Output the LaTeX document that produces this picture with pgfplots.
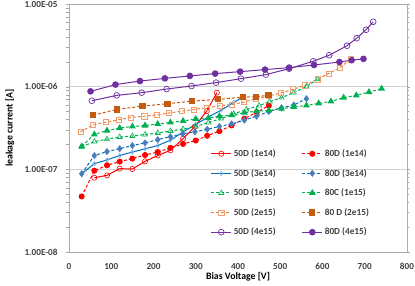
\documentclass[border=0pt]{standalone}
\usepackage{pgfplots}
\pgfplotsset{compat=1.18}
\usepackage{fontspec}
\setmainfont{Carlito}
\definecolor{cred}{HTML}{FF0000}
\definecolor{cblue}{HTML}{0070C0}
\definecolor{clblue}{HTML}{7FB2E5}
\definecolor{csteel}{HTML}{4A7EBB}
\definecolor{cgreen}{HTML}{00B050}
\definecolor{corange}{HTML}{ED7D31}
\definecolor{clorange}{HTML}{F0A070}
\definecolor{cdorange}{HTML}{C55A11}
\definecolor{cpurple}{HTML}{7030A0}
\definecolor{ctext}{HTML}{404040}
\definecolor{cgrid}{HTML}{D0D0D0}
\begin{document}
\begin{tikzpicture}
\useasboundingbox (-69pt,-33pt) rectangle (346pt,252pt);
\begin{axis}[
  at={(0,0)}, anchor=south west,
  width=338pt, height=248pt, scale only axis,
  xmin=0, xmax=800, ymode=log, ymin=1e-8, ymax=1e-5,
  xtick={0,100,200,300,400,500,600,700,800},
  xticklabels={0,100,200,300,400,500,600,700,800},
  ytick={1e-8,1e-7,1e-6,1e-5},
  yticklabels={1.00E-08,1.00E-07,1.00E-06,1.00E-05},
  /pgf/number format/assume math mode=true,
  ymajorgrids, major grid style={cgrid, line width=0.8pt},
  axis line style={gray!65, line width=0.8pt},
  xtick style={draw=none},
  ytick style={gray!70},
  tick align=outside, major tick length=3pt, minor tick length=2.5pt,
  ticklabel style={font=\fontsize{9.2}{10}\selectfont\bfseries, text=ctext},
  yticklabel style={xshift=-5pt},
  xticklabel style={yshift=-5pt},
  every axis y label/.style={at={(axis description cs:0,0.5)}, xshift=-59pt, rotate=90, anchor=center},
  every axis x label/.style={at={(axis description cs:0.5,0)}, yshift=-25pt, anchor=center},
  label style={font=\fontsize{9.8}{11}\selectfont\bfseries, text=black},
  xlabel={Bias Voltage [V]},
  ylabel={leakage current [A]},
  legend columns=2,
  legend cell align=left,
  legend style={at={(rel axis cs:0.41,0.43)}, anchor=north west, draw=none, fill=none,
    font=\fontsize{9.3}{10}\selectfont\bfseries, text=ctext, row sep=7.2pt,
    /tikz/every even column/.append style={column sep=24pt}},
  legend image code/.code={\draw[mark repeat=2,mark phase=2] plot coordinates {(0pt,0pt) (10pt,0pt) (20pt,0pt)};},
  every axis plot/.append style={line width=1pt},
]
% 50D (1e14)
\addplot[cred, solid, mark=o, mark size=2.6pt, mark options={solid, fill=white, line width=0.6pt}] coordinates {
(60,7.92e-8) (90,8.45e-8) (120,1.02e-7) (150,1.01e-7) (180,1.25e-7) (210,1.47e-7) (240,1.70e-7) (270,2.35e-7) (298,3.3e-7) (326,5.06e-7) (350,8.46e-7)};
\addlegendentry{50D (1e14)}
% 80D (1e14)
\addplot[cred, dash pattern=on 3pt off 2pt, mark=*, mark size=2.5pt, mark options={solid, fill=cred}] coordinates {
(30,4.70e-8) (60,9.64e-8) (90,1.12e-7) (120,1.24e-7) (150,1.35e-7) (180,1.49e-7) (210,1.62e-7) (240,1.82e-7) (270,2.03e-7) (300,2.23e-7) (327,2.55e-7) (356,2.9e-7) (385,3.4e-7) (415,4.1e-7) (444,4.9e-7) (473,5.9e-7)};
\addlegendentry{80D (1e14)}
% 50D (3e14)
\addplot[cblue, solid, mark=diamond, mark size=2.2pt, mark options={solid, draw=clblue, fill=white, line width=0.6pt}] coordinates {
(30,8.85e-8) (60,1.17e-7) (90,1.30e-7) (120,1.47e-7) (150,1.62e-7) (180,1.77e-7) (210,1.94e-7) (240,2.25e-7) (270,2.83e-7) (300,3.5e-7) (330,4.3e-7) (360,5.2e-7) (390,6.45e-7) (409,7.36e-7)};
\addlegendentry{50D (3e14)}
% 80D (3e14)
\addplot[cblue, dash pattern=on 3pt off 2pt, mark=diamond*, mark size=2.8pt, mark options={solid, draw=csteel, fill=csteel}] coordinates {
(30,8.85e-8) (60,1.47e-7) (90,1.64e-7) (120,1.78e-7) (150,1.94e-7) (180,2.09e-7) (210,2.29e-7) (240,2.48e-7) (269,2.69e-7) (298,2.85e-7) (327,3.05e-7) (356,3.3e-7) (385,3.55e-7) (415,3.94e-7) (444,4.4e-7) (473,5.0e-7) (503,5.56e-7) (532,6.0e-7) (562,7.16e-7)};
\addlegendentry{80D (3e14)}
% 50D (1e15)
\addplot[cgreen, dash pattern=on 3pt off 2pt, mark=triangle, mark size=3pt, mark options={solid, fill=white, line width=0.6pt}] coordinates {
(30,1.87e-7) (60,2.17e-7) (90,2.32e-7) (120,2.46e-7) (150,2.53e-7) (180,2.64e-7) (210,2.75e-7) (240,2.91e-7) (270,3.07e-7) (300,3.3e-7) (330,3.69e-7) (360,4.12e-7) (390,4.68e-7) (420,5.3e-7) (450,5.9e-7) (475,6.6e-7) (503,7.36e-7) (532,8.5e-7) (562,1.0e-6) (588,1.23e-6)};
\addlegendentry{50D (1e15)}
% 80C (1e15)
\addplot[cgreen, dash pattern=on 3pt off 2pt, mark=triangle*, mark size=3pt, mark options={solid, fill=cgreen}] coordinates {
(30,1.90e-7) (60,2.64e-7) (90,2.95e-7) (120,3.16e-7) (150,3.30e-7) (180,3.39e-7) (210,3.54e-7) (240,3.69e-7) (270,3.85e-7) (300,4.07e-7) (330,4.18e-7) (356,4.40e-7) (385,4.52e-7) (415,4.84e-7) (444,5.06e-7) (473,5.16e-7) (503,5.41e-7) (532,5.69e-7) (562,5.93e-7) (591,6.28e-7) (620,6.63e-7) (650,7.36e-7) (680,7.85e-7) (710,8.61e-7) (740,9.46e-7)};
\addlegendentry{80C (1e15)}
% 50D (2e15)
\addplot[corange, dash pattern=on 3pt off 2pt, mark=square, mark size=2.6pt, mark options={solid, draw=clorange, fill=white, line width=0.6pt}] coordinates {
(27,2.83e-7) (57,3.46e-7) (87,3.72e-7) (117,3.98e-7) (147,4.24e-7) (178,4.39e-7) (207,4.55e-7) (237,4.81e-7) (267,5.06e-7) (296,5.31e-7) (326,5.56e-7) (356,5.85e-7) (386,6.10e-7) (414,6.5e-7) (443,7.16e-7) (472,7.7e-7) (501,8.4e-7) (530,9.28e-7) (559,1.04e-6) (588,1.23e-6) (614,1.44e-6) (641,1.70e-6) (667,2.15e-6)};
\addlegendentry{50D (2e15)}
% 80D (2e15)
\addplot[cdorange, dash pattern=on 3pt off 2pt, mark=square*, mark size=2.6pt, mark options={solid, fill=cdorange}] coordinates {
(57,4.52e-7) (114,5.31e-7) (174,5.82e-7) (233,6.22e-7) (292,6.69e-7) (353,7.02e-7) (412,7.48e-7) (442,7.57e-7) (472,7.85e-7)};
\addlegendentry{80 D (2e15)}
% 50D (4e15)
\addplot[cpurple, solid, mark=o, mark size=2.9pt, mark options={solid, fill=white, line width=0.7pt}] coordinates {
(54,6.76e-7) (113,7.85e-7) (172,8.46e-7) (231,9.36e-7) (290,1.02e-6) (348,1.12e-6) (407,1.25e-6) (466,1.40e-6) (521,1.65e-6) (578,2.03e-6) (616,2.40e-6) (658,3.13e-6) (681,3.86e-6) (703,4.88e-6) (720,6.10e-6)};
\addlegendentry{50D (4e15)}
% 80D (4e15)
\addplot[cpurple, solid, mark=*, mark size=2.8pt, mark options={solid, fill=cpurple}] coordinates {
(51,8.78e-7) (110,1.06e-6) (168,1.17e-6) (227,1.26e-6) (286,1.35e-6) (346,1.44e-6) (405,1.52e-6) (464,1.61e-6) (521,1.70e-6) (580,1.83e-6) (640,1.99e-6) (669,2.09e-6) (697,2.17e-6)};
\addlegendentry{80D (4e15)}
\end{axis}
\end{tikzpicture}
\end{document}
